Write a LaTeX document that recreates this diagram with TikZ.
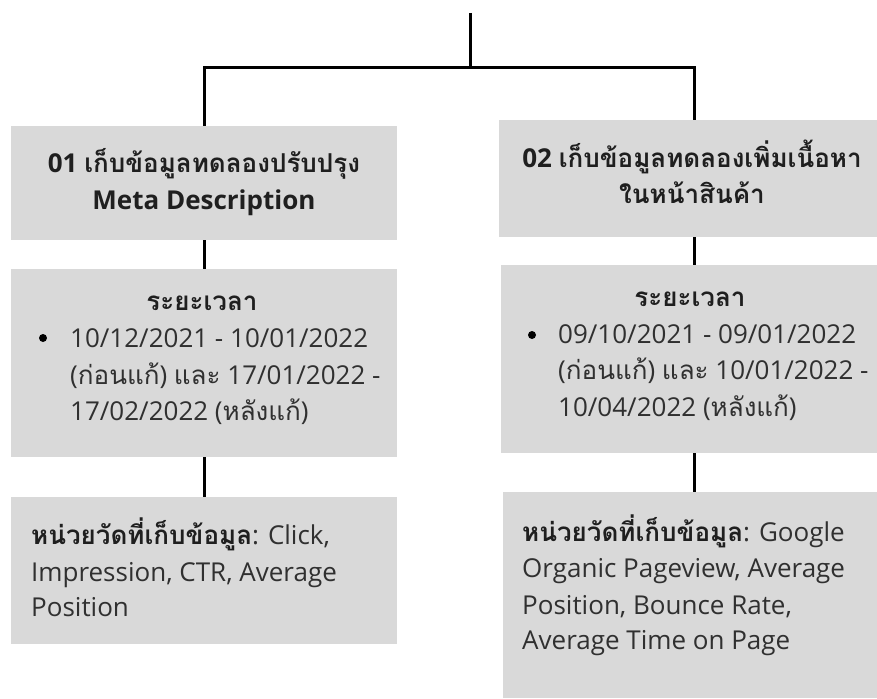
\documentclass[tikz,border=0pt]{standalone}
\usepackage{fontspec}
\setmainfont{Open Sans}
\newfontfamily\thaifont[Script=Thai]{Loma}
\newcommand\tht[1]{{\thaifont #1}}
\definecolor{boxgray}{HTML}{D9D9D9}
\definecolor{txtdark}{HTML}{1F1F1F}
\definecolor{txtreg}{HTML}{303030}
\begin{document}
\begin{tikzpicture}[x=1pt,y=-1pt,
  box/.style={fill=boxgray, draw=none, inner sep=0pt},
  conn/.style={draw=black, line width=3pt, line join=miter},
  ttl/.style={anchor=base, inner sep=0pt, text=txtdark, font=\fontsize{26}{36}\selectfont\bfseries},
  txt/.style={anchor=base west, inner sep=0pt, text=txtreg, font=\fontsize{26}{36}\selectfont},
  bul/.style={circle, fill=black, inner sep=0pt, minimum size=8pt}]
\useasboundingbox (0,0) rectangle (877,698);
\clip (0,0) rectangle (877,698);
\fill[white] (0,0) rectangle (877,698);
% boxes
\node[box, minimum width=386pt, minimum height=114pt] (b1) at (204,183) {};
\node[box, minimum width=386pt, minimum height=188pt] (b2) at (204,363) {};
\node[box, minimum width=386pt, minimum height=147pt] (b3) at (204,570.5) {};
\node[box, minimum width=390pt, minimum height=117pt] (r1) at (694,178.5) {};
\node[box, minimum width=386pt, minimum height=188pt] (r2) at (694,359) {};
\node[box, minimum width=382pt, minimum height=206pt] (r3) at (694,595) {};
% connectors
\coordinate (top) at (470,13);
\coordinate (jm) at (470,68);
\coordinate (jl) at (204,68);
\coordinate (jr) at (694,68);
\draw[conn] (top) -- (jm);
\draw[conn] (b1.north) -- (jl) -- (jr) -- (r1.north);
\draw[conn] (b1.south) -- (b2.north);
\draw[conn] (b2.south) -- (b3.north);
\draw[conn] (r1.south) -- (r2.north);
\draw[conn] (r2.south) -- (r3.north);
% titles
\node[ttl] (t1a) at (204,172) {01 \tht{เก็บข้อมูลทดลองปรับปรุง}};
\node[ttl] (t1b) at (204,209) {Meta Description};
\node[ttl] (t2a) at (692,167) {02 \tht{เก็บข้อมูลทดลองเพิ่มเนื้อหา}};
\node[ttl] (t2b) at (692,203) {\tht{ในหน้าสินค้า}};
% period boxes
\node[ttl] (p1h) at (202,310) {\tht{ระยะเวลา}};
\node[bul] (p1b) at (43,338) {};
\node[txt] (p1l1) at (70,347) {10/12/2021 - 10/01/2022};
\node[txt] (p1l2) at (70,384) {(\tht{ก่อนแก้}) \tht{และ} 17/01/2022 -};
\node[txt] (p1l3) at (70,420) {17/02/2022 (\tht{หลังแก้})};
\node[ttl] (p2h) at (690,306) {\tht{ระยะเวลา}};
\node[bul] (p2b) at (532,335) {};
\node[txt] (p2l1) at (558,343) {09/10/2021 - 09/01/2022};
\node[txt] (p2l2) at (558,379) {(\tht{ก่อนแก้}) \tht{และ} 10/01/2022 -};
\node[txt] (p2l3) at (558,416) {10/04/2022 (\tht{หลังแก้})};
% metric boxes
\node[txt] (m1l1) at (31,544) {{\color{txtdark}\bfseries\tht{หน่วยวัดที่เก็บข้อมูล}}: Click,};
\node[txt] (m1l2) at (31,581) {Impression, CTR, Average};
\node[txt] (m1l3) at (31,616) {Position};
\node[txt] (m2l1) at (522,541) {{\color{txtdark}\bfseries\tht{หน่วยวัดที่เก็บข้อมูล}}: Google};
\node[txt] (m2l2) at (522,577) {Organic Pageview, Average};
\node[txt] (m2l3) at (522,614) {Position, Bounce Rate,};
\node[txt] (m2l4) at (522,649) {Average Time on Page};
\end{tikzpicture}
\end{document}
